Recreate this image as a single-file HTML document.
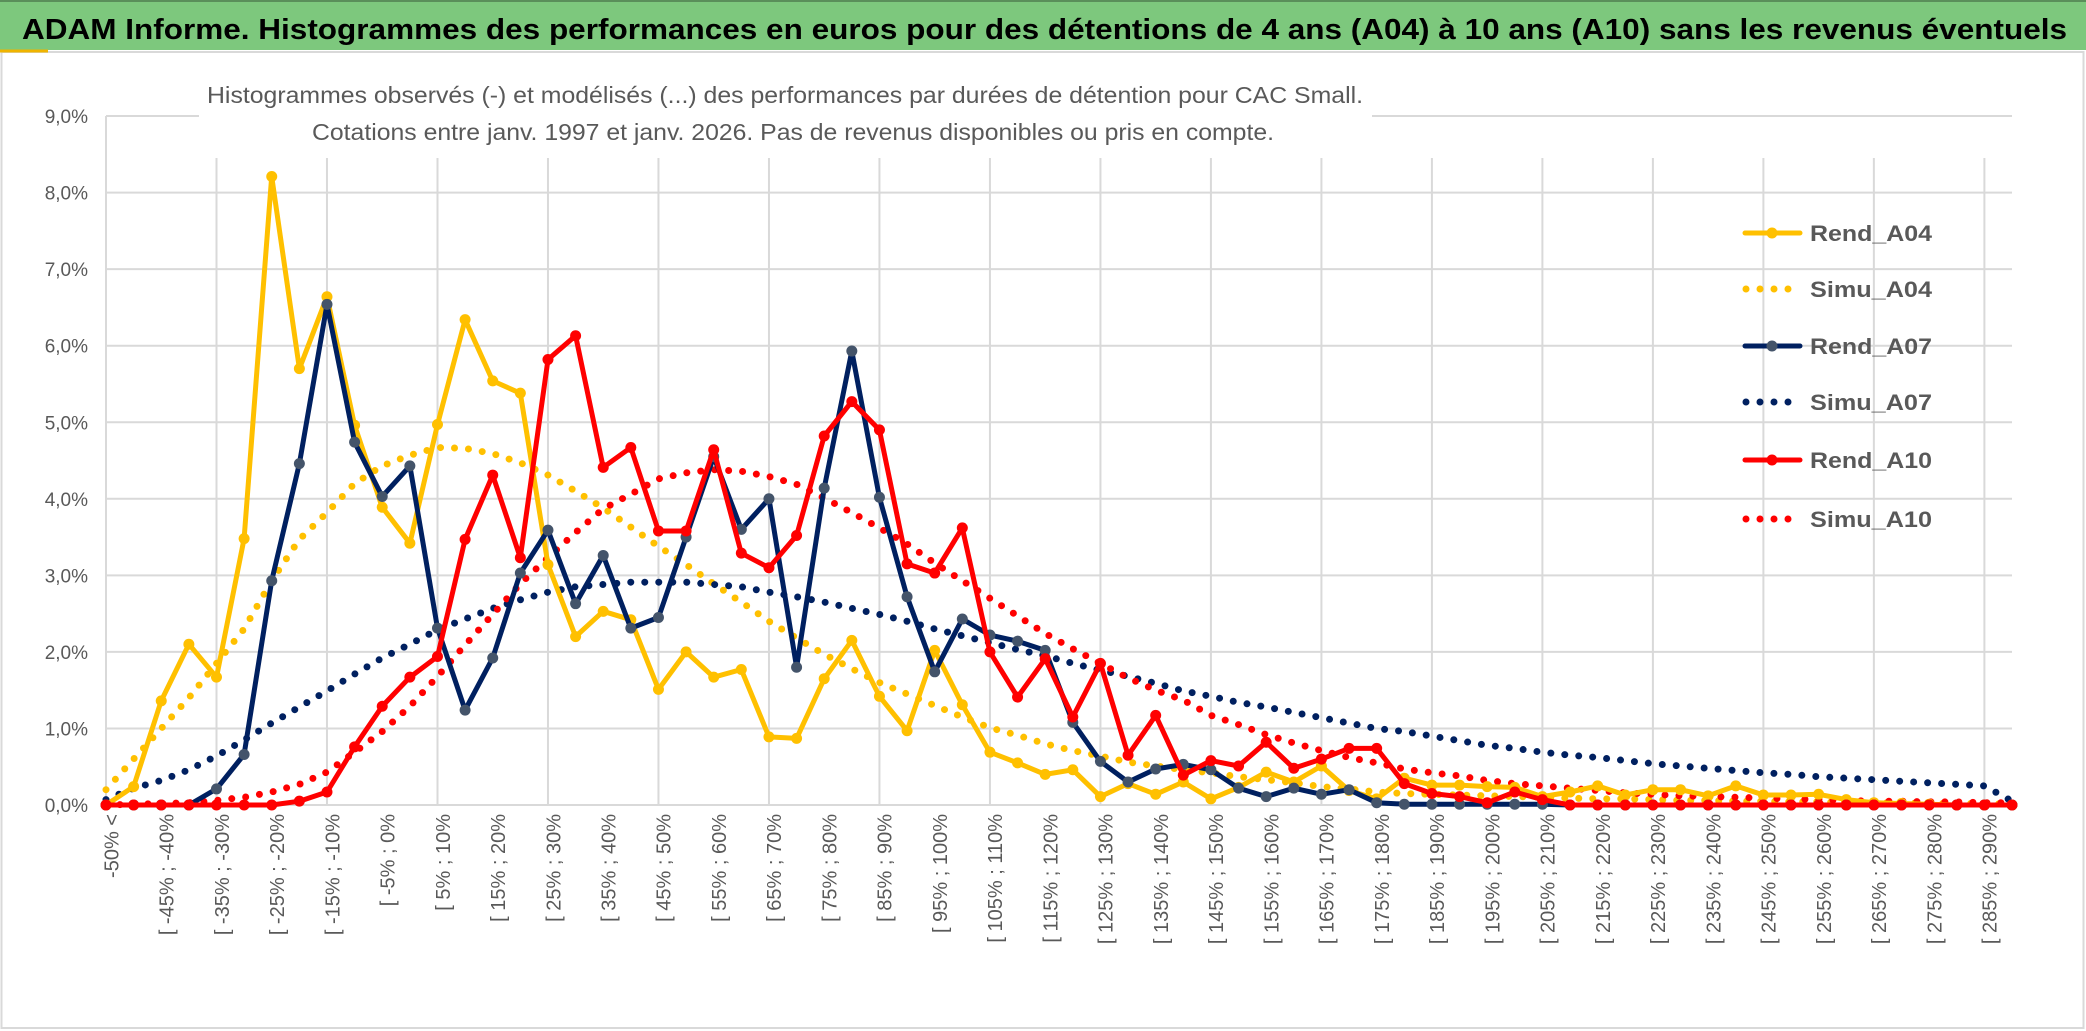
<!DOCTYPE html>
<html><head><meta charset="utf-8"><style>
html,body{margin:0;padding:0;background:#fff;}
svg{display:block;font-family:"Liberation Sans",sans-serif;}
</style></head><body>
<svg id="chart" width="2086" height="1031" viewBox="0 0 2086 1031" xmlns="http://www.w3.org/2000/svg">
<rect x="0" y="0" width="2086" height="1031" fill="#fff"/>
<rect x="1.5" y="52" width="2082" height="976" fill="none" stroke="#d9d9d9" stroke-width="2"/>
<rect x="0" y="0" width="2086" height="50" fill="#7dc87d"/>
<line x1="0" y1="1" x2="2086" y2="1" stroke="#5a8f5a" stroke-width="2"/>
<line x1="0" y1="51" x2="48" y2="51" stroke="#f0b400" stroke-width="3"/>
<text x="22" y="39" font-size="29" font-weight="bold" fill="#000" textLength="2045" lengthAdjust="spacingAndGlyphs">ADAM Informe. Histogrammes des performances en euros pour des détentions de 4 ans (A04) à 10 ans (A10) sans les revenus éventuels</text>
<g id="grid"></g>
<rect x="199" y="72" width="1173" height="86" fill="#fff"/>
<text x="785" y="103" font-size="23" fill="#595959" text-anchor="middle" textLength="1156" lengthAdjust="spacingAndGlyphs">Histogrammes observés (-) et modélisés (...) des performances par durées de détention pour CAC Small.</text>
<text x="793" y="140" font-size="23" fill="#595959" text-anchor="middle" textLength="962" lengthAdjust="spacingAndGlyphs">Cotations entre janv. 1997 et janv. 2026. Pas de revenus disponibles ou pris en compte.</text>
<g id="axes"></g>
<g id="series"></g>
<g id="legend"></g>
</svg>
<script>
// ---- data ----
const yTicks = ["0,0%","1,0%","2,0%","3,0%","4,0%","5,0%","6,0%","7,0%","8,0%","9,0%"];
const categories = ["-50% <"];
for (let k = -50; k < 295; k += 5) categories.push("[ " + k + "% ; " + (k + 5) + "%");

const rendA04 = [0,0.24,1.36,2.1,1.67,3.48,8.21,5.7,6.64,4.96,3.89,3.42,
4.97,6.34,5.54,5.38,3.14,2.2,2.53,2.42,1.51,2.0,1.67,1.77,
0.89,0.87,1.65,2.15,1.42,0.97,2.02,1.31,0.69,0.55,0.4,0.46,
0.11,0.28,0.14,0.3,0.08,0.23,0.43,0.3,0.51,0.19,0.08,
0.35,0.26,0.26,0.24,0.23,0.11,0.17,0.25,0.13,0.2,0.2,0.12,
0.25,0.13,0.13,0.14,0.07,0.03,0.02,0.01,0,0,0];
const simuA04 = [0.2,0.6,1.0,1.4,1.85,2.3,2.93,3.47,3.82,4.2,4.43,4.57,
4.67,4.66,4.59,4.47,4.31,4.1,3.88,3.63,3.38,3.14,2.89,2.65,
2.4,2.18,1.97,1.78,1.6,1.45,1.3,1.15,1.01,0.91,0.8,0.71,
0.64,0.56,0.51,0.46,0.42,0.37,0.33,0.29,0.24,0.21,0.17,
0.15,0.14,0.13,0.12,0.11,0.1,0.09,0.08,0.08,0.07,0.06,0.06,0.05,0.05,0.04,0.04,0.03,0.03,0.03,0.02,0.02,0.02,0.01];
const rendA07 = [0,0,0,0,0.21,0.66,2.93,4.46,6.54,4.74,4.03,4.43,
2.31,1.24,1.92,3.03,3.59,2.63,3.26,2.31,2.45,3.5,4.55,3.6,
4.0,1.8,4.14,5.93,4.02,2.72,1.74,2.43,2.22,2.14,2.02,1.08,
0.57,0.3,0.47,0.53,0.46,0.22,0.11,0.22,0.14,0.2,0.03,
0.01,0.01,0.01,0.01,0.01,0.01,0,0,0,0,0,0,0,0,0,0,0,0,0,0,0,0,0];
const simuA07 = [0.07,0.22,0.32,0.46,0.64,0.85,1.07,1.28,1.49,1.71,1.92,2.1,
2.29,2.43,2.57,2.68,2.78,2.85,2.88,2.91,2.91,2.91,2.88,2.85,
2.78,2.72,2.65,2.57,2.49,2.4,2.3,2.21,2.12,2.03,1.95,1.85,
1.76,1.68,1.59,1.49,1.42,1.34,1.28,1.21,1.14,1.07,1.0,
0.96,0.9,0.84,0.78,0.74,0.69,0.65,0.62,0.58,0.54,0.51,0.48,
0.45,0.42,0.4,0.37,0.35,0.33,0.31,0.29,0.27,0.25,0.05];
const rendA10 = [0,0,0,0,0,0,0,0.05,0.17,0.76,1.29,1.67,
1.94,3.47,4.31,3.23,5.82,6.13,4.41,4.67,3.58,3.58,4.64,3.29,
3.1,3.52,4.82,5.27,4.9,3.15,3.03,3.62,2.0,1.41,1.91,1.15,
1.85,0.65,1.17,0.39,0.58,0.51,0.82,0.48,0.6,0.74,0.74,
0.28,0.15,0.11,0.03,0.17,0.07,0,0,0,0,0,0,0,0,0,0,0,0,0,0,0,0,0];
const simuA10 = [0,0.01,0.02,0.03,0.06,0.1,0.17,0.27,0.43,0.69,0.96,1.29,
1.68,2.09,2.49,2.89,3.23,3.56,3.87,4.06,4.26,4.34,4.38,4.36,
4.29,4.19,4.01,3.82,3.62,3.41,3.16,2.93,2.7,2.47,2.24,2.04,
1.85,1.66,1.5,1.37,1.17,1.05,0.92,0.81,0.71,0.62,0.55,
0.47,0.42,0.38,0.32,0.28,0.25,0.22,0.19,0.16,0.14,0.12,0.11,
0.1,0.09,0.08,0.07,0.06,0.05,0.05,0.04,0.04,0.03,0.03];
const seriesNames = ["Rend_A04","Simu_A04","Rend_A07","Simu_A07","Rend_A10","Simu_A10"];

// ---- layout ----
const NS = "http://www.w3.org/2000/svg";
const X0 = 106, X1 = 2012, Y0 = 805, PER = 76.55;
const step = (X1 - X0) / (categories.length - 1);
function xs(i){ return X0 + i * step; }
function ys(v){ return Y0 - v * PER; }
function mk(tag, attrs, parent){
  const e = document.createElementNS(NS, tag);
  for (const k in attrs) e.setAttribute(k, attrs[k]);
  parent.appendChild(e); return e;
}
const grid = document.getElementById("grid");
const axes = document.getElementById("axes");
const series = document.getElementById("series");
const legend = document.getElementById("legend");

for (let t = 0; t < yTicks.length; t++) {
  const l = mk("line", {x1:X0, x2:X1, y1:ys(t), y2:ys(t), stroke:"#d9d9d9", "stroke-width":2}, grid);
  
  
  const tx = mk("text", {x:88, y:ys(t)+7, "font-size":19, fill:"#595959", "text-anchor":"end"}, axes);
  tx.textContent = yTicks[t];
  
  
}
for (let i = 0; i < categories.length; i += 4) {
  const top = (i === 0) ? ys(9) : 158;
  const l = mk("line", {x1:xs(i), x2:xs(i), y1:top, y2:Y0, stroke:"#d9d9d9", "stroke-width":2}, grid);
  
  
}
for (let i = 0; i < categories.length; i += 2) {
  const x = xs(i) + 7, y = 814;
  const tx = mk("text", {x:x, y:y, "font-size":20, fill:"#595959", "text-anchor":"end", "dominant-baseline":"middle", transform:"rotate(-90 "+x+" "+y+")"}, axes);
  tx.textContent = categories[i];
  
  
}

const styles = [
  {data:rendA04, color:"#ffc000", dotted:false, marker:"#ffc000"},
  {data:simuA04, color:"#ffc000", dotted:true},
  {data:rendA07, color:"#002060", dotted:false, marker:"#44546a"},
  {data:simuA07, color:"#002060", dotted:true},
  {data:rendA10, color:"#ff0000", dotted:false, marker:"#ff0000"},
  {data:simuA10, color:"#ff0000", dotted:true}
];
const drawOrder = [1,3,5,0,2,4];
drawOrder.forEach(function(s){
  const st = styles[s];
  const pts = st.data.map(function(v,i){ return xs(i).toFixed(1)+","+ys(v).toFixed(1); }).join(" ");
  const g = mk("g", {}, series);
  
  
  const attrs = {points:pts, fill:"none", stroke:st.color, "stroke-linejoin":"round"};
  if (st.dotted) { attrs["stroke-width"] = 7; attrs["stroke-dasharray"] = "0 14"; attrs["stroke-linecap"] = "round"; }
  else { attrs["stroke-width"] = 5; attrs["stroke-linecap"] = "round"; }
  const pl = mk("polyline", attrs, g);
  
  
  if (!st.dotted) {
    st.data.forEach(function(v,i){
      const c = mk("circle", {cx:xs(i), cy:ys(v), r:5.5, fill:st.marker}, g);
      
      
    });
  }
});

// legend
const legY = [233, 289, 346, 402, 460, 519];
for (let s = 0; s < 6; s++) {
  const st = styles[s];
  const g = mk("g", {}, legend);
  
  
  const a = {x1:1745, x2:1800, y1:legY[s], y2:legY[s], stroke:st.color, "stroke-linecap":"round"};
  if (st.dotted) { a["stroke-width"] = 7; a["stroke-dasharray"] = "0 14"; a.x1 = 1746; }
  else a["stroke-width"] = 5;
  const l = mk("line", a, g);
  
  
  if (!st.dotted) {
    const c = mk("circle", {cx:1772, cy:legY[s], r:5.5, fill:st.marker}, g);
    
    
  }
  const t = mk("text", {x:1810, y:legY[s]+8, "font-size":22, "font-weight":"bold", fill:"#595959", textLength:122, lengthAdjust:"spacingAndGlyphs"}, g);
  t.textContent = seriesNames[s];
  
  
}
</script>
</body></html>
